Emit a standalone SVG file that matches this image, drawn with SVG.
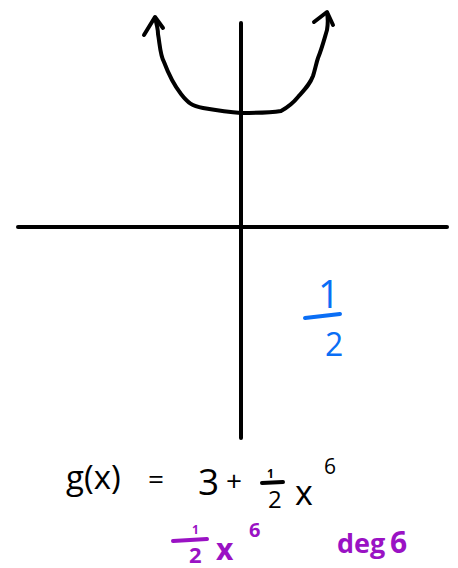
<svg xmlns="http://www.w3.org/2000/svg" width="458" height="568" viewBox="0 0 458 568">
<style>
.ink{fill:none;stroke:#000;stroke-width:4;stroke-linecap:round;stroke-linejoin:round}
.t{font-family:"Open Sans","Liberation Sans",sans-serif;}
.blk{fill:#000}
.pur{fill:#9a12c4}
.blu{fill:#0a6ef5}
</style>
<rect width="458" height="568" fill="#fff"/>
<g id="axes">
<line class="ink" x1="18" y1="227" x2="447" y2="227"/>
<line class="ink" x1="241" y1="23" x2="241" y2="438"/>
</g>
<g id="curve">
<path class="ink" d="M155,18 C157,25 158,30 158,34 C160,45 160,55 164,62 C170,78 174,85 181,94 C188,103 192,106 203,108 C215,110 228,112 241,113 C255,113 268,113 281,111 C290,106 294,102 298,97 C306,88 310,84 313,76 C315,70 316,64 318,58 C322,48 324,40 327,30 C328,24 328,18 327,13"/>
<path class="ink" d="M144,35 L155,17 L163,28"/>
<path class="ink" d="M314,22 L327,12 L333,25"/>
</g>
<g id="equation">
<text class="t blk" x="66" y="489" font-size="33">g(x)</text>
<text class="t blk" x="148" y="489" font-size="28">=</text>
<text class="t blk" x="198" y="495" font-size="37">3</text>
<text class="t blk" x="226" y="491" font-size="28">+</text>
<text class="t blk" x="267" y="478" font-size="12" font-weight="bold">1</text>
<line x1="262" y1="483" x2="283" y2="482" stroke="#000" stroke-width="4" stroke-linecap="round"/>
<text class="t blk" x="268" y="508" font-size="24">2</text>
<text class="t blk" x="295" y="505" font-size="34">x</text>
<text class="t blk" x="324" y="474" font-size="21">6</text>
</g>
<g id="leading-term">
<text class="t pur" x="192" y="534" font-size="12" font-weight="bold">1</text>
<line x1="173" y1="541" x2="207" y2="539" stroke="#9a12c4" stroke-width="4" stroke-linecap="round"/>
<text class="t pur" x="189" y="563" font-size="22" font-weight="bold">2</text>
<text class="t pur" x="216" y="560" font-size="30" font-weight="bold">x</text>
<text class="t pur" x="249" y="537" font-size="20" font-weight="bold">6</text>
</g>
<g id="degree">
<text class="t pur" x="337" y="553" font-size="27" font-weight="bold">deg</text>
<text class="t pur" x="390" y="553" font-size="30" font-weight="bold">6</text>
</g>
<g id="coefficient">
<text class="t blu" x="318" y="308" font-size="38">1</text>
<line x1="305" y1="318" x2="340" y2="314" stroke="#0a6ef5" stroke-width="4" stroke-linecap="round"/>
<text class="t blu" x="325" y="356" font-size="32">2</text>
</g>
</svg>
